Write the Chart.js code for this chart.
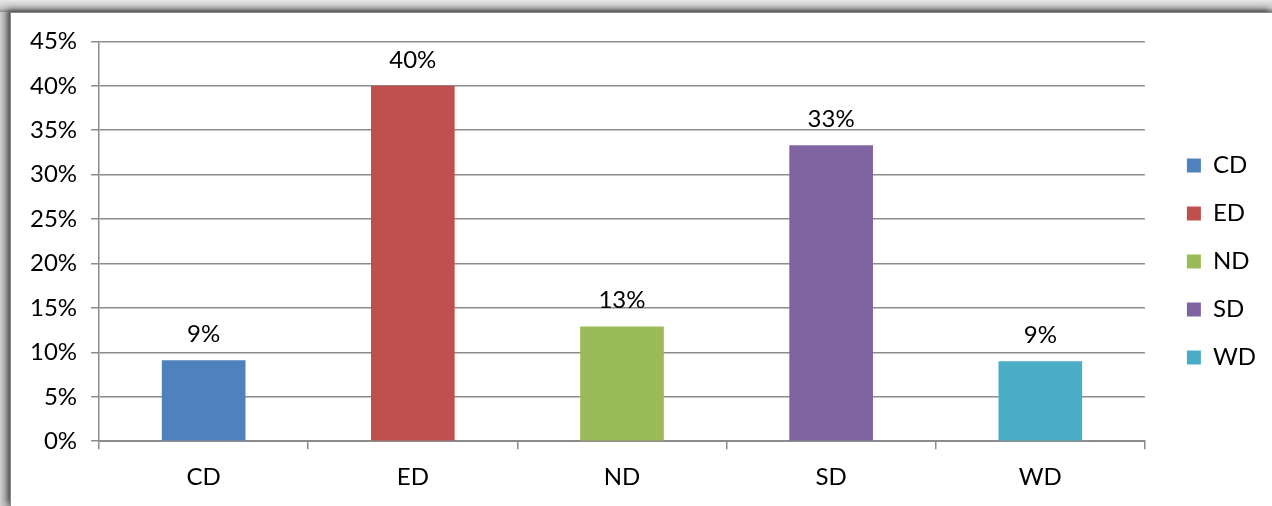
<!DOCTYPE html>
<html>
<head>
<meta charset="utf-8">
<script src="https://cdn.jsdelivr.net/npm/chart.js@4.4.1/dist/chart.umd.min.js"></script>
<style>
  html, body { margin: 0; padding: 0; background: #9a9a9a; }
  body { width: 1272px; height: 506px; overflow: hidden; position: relative;
         background: linear-gradient(to bottom, #e6e6e6 0px, #c8c8c8 8px, #8a8a8a 12px, #9a9a9a 13px); }
  #frame { position: absolute; left: 10px; top: 12px; width: 1262px; height: 494px;
           background: #ffffff; box-shadow: -3px -3px 6px rgba(0,0,0,0.45); border-left: 1px solid #8a8a8a; border-top: 1px solid #8a8a8a; box-sizing: border-box; }
  #side { position: absolute; left: 0; top: 12px; width: 10px; height: 494px;
          background: linear-gradient(to right, #d0d0d0 0px, #b4b4b4 6px, #909090 10px); }
  canvas { display: block; }
</style>
</head>
<body>
<div id="side"></div>
<div id="frame"><canvas id="c" width="1261" height="493"></canvas></div>
<script>
const categories = ['CD', 'ED', 'ND', 'SD', 'WD'];
const shares = [0.091, 0.40, 0.129, 0.333, 0.090];
const shareLabels = ['9%', '40%', '13%', '33%', '9%'];
const barColors = ['#4F81BD', '#C0504D', '#9BBB59', '#8064A2', '#4BACC6'];
const yTicks = [0, 0.05, 0.10, 0.15, 0.20, 0.25, 0.30, 0.35, 0.40, 0.45];

const FONT = 'Lato, "Open Sans", sans-serif';
const FONT_SIZE = 24;
const GRID = '#8c8c8c';

// Value labels written above each bar
const valueLabels = {
  id: 'valueLabels',
  afterDatasetsDraw(chart) {
    const ctx = chart.ctx;
    const meta = chart.getDatasetMeta(0);
    ctx.save();
    ctx.font = FONT_SIZE + 'px ' + FONT;
    ctx.fillStyle = '#000';
    ctx.textAlign = 'center';
    ctx.textBaseline = 'middle';
    meta.data.forEach((bar, i) => {
      ctx.fillText(shareLabels[i], bar.x, bar.y - 26);
    });
    ctx.restore();
  }
};

// Give the legend a wider gutter and nudge its items right / up
const LEGEND_EXTRA = 8;
const LEGEND_SHIFT_X = 18;
const LEGEND_SHIFT_Y = -7;
const legendGutter = {
  id: 'legendGutter',
  afterInit(chart) {
    const lg = chart.legend;
    const fit = lg.fit;
    lg.fit = function () { fit.call(this); this.width += LEGEND_EXTRA; };
  },
  afterLayout(chart) {
    const lg = chart.legend;
    lg.left += LEGEND_SHIFT_X;
    lg.right += LEGEND_SHIFT_X;
    lg.top += LEGEND_SHIFT_Y;
    lg.bottom += LEGEND_SHIFT_Y;
  }
};

new Chart(document.getElementById('c'), {
  type: 'bar',
  data: {
    labels: categories,
    datasets: [{
      data: shares,
      backgroundColor: barColors,
      borderWidth: 0,
      barPercentage: 0.4,
      categoryPercentage: 1.0
    }]
  },
  options: {
    responsive: false,
    animation: false,
    layout: { padding: { top: 18, left: 5, right: 16, bottom: 0 } },
    plugins: {
      tooltip: { enabled: false },
      legend: {
        position: 'right',
        labels: {
          font: { family: FONT, size: FONT_SIZE },
          color: '#000',
          boxWidth: 14,
          boxHeight: 14,
          padding: 24,
          generateLabels(chart) {
            return categories.map((c, i) => ({
              text: c,
              fillStyle: barColors[i],
              strokeStyle: barColors[i],
              lineWidth: 0,
              hidden: false,
              index: i,
              fontColor: '#000'
            }));
          }
        },
        onClick: null
      }
    },
    scales: {
      x: {
        offset: true,
        grid: { offset: true, drawOnChartArea: false, drawTicks: true, tickLength: 8, color: GRID, lineWidth: 1.5 },
        border: { color: GRID, width: 2 },
        ticks: { font: { family: FONT, size: FONT_SIZE }, color: '#000', padding: 14 }
      },
      y: {
        min: 0,
        max: 0.45,
        afterBuildTicks(scale) { scale.ticks = yTicks.map(v => ({ value: v })); },
        grid: { color: GRID, lineWidth: 1.5, tickLength: 8 },
        border: { color: GRID, width: 1.5 },
        ticks: {
          font: { family: FONT, size: FONT_SIZE }, color: '#000', padding: 14,
          callback: v => Math.round(v * 100) + '%'
        }
      }
    }
  },
  plugins: [legendGutter, valueLabels]
});
</script>
</body>
</html>
